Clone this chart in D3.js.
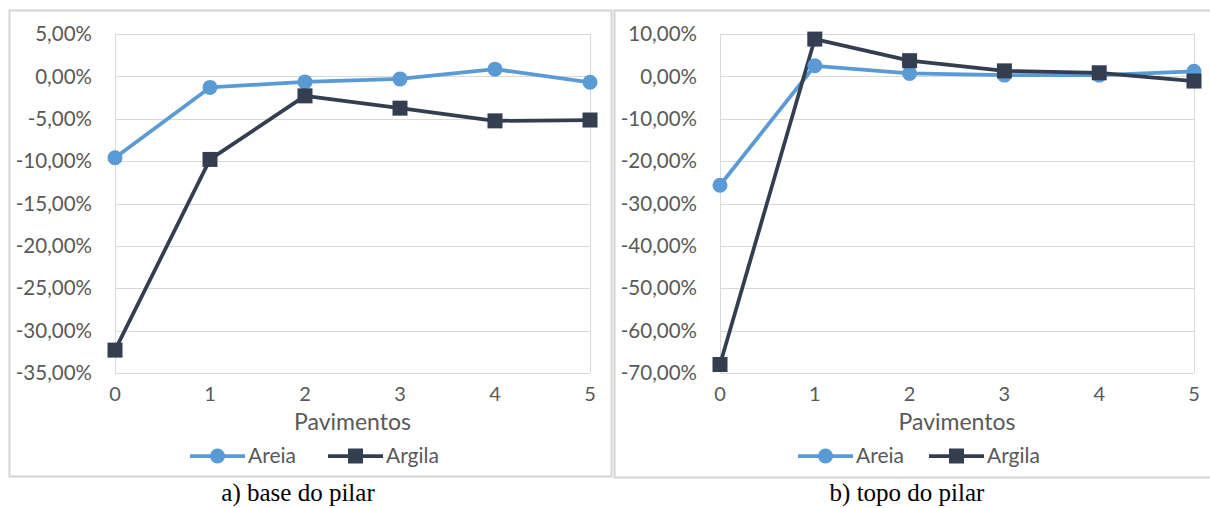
<!DOCTYPE html>
<html>
<head>
<meta charset="utf-8">
<script src="https://cdn.jsdelivr.net/npm/d3@7"></script>
<style>
  body { margin: 0; background: #fff; }
  svg { display: block; }
  .tick-label { font-family: Lato, "Open Sans", sans-serif; fill: #595959; }
  .caption { font-family: "Liberation Serif", "DejaVu Serif", serif; fill: #000; }
</style>
</head>
<body>
<svg id="chart" width="1210" height="508"></svg>
<script>
// floors (x categories)
const floors = [0, 1, 2, 3, 4, 5]

// a) base do pilar
const baseAreia = [-9.6, -1.3, -0.65, -0.3, 0.85, -0.7]
const baseArgila = [-32.3, -9.8, -2.3, -3.75, -5.25, -5.15]
const baseTicks = [5, 0, -5, -10, -15, -20, -25, -30, -35]

// b) topo do pilar
const topoAreia = [-25.7, 2.5, 0.7, 0.3, 0.3, 1.2]
const topoArgila = [-68.0, 8.8, 3.7, 1.3, 0.85, -1.1]
const topoTicks = [10, 0, -10, -20, -30, -40, -50, -60, -70]

const seriesNames = ["Areia", "Argila"]
const colors = { Areia: "#5B9BD5", Argila: "#333F50" }

const svg = d3.select("#chart")

const fmt = v => v.toFixed(2).replace(".", ",") + "%"

// panel frames
svg.append("rect")
    .attr("x", 9.5).attr("y", 10.5)
    .attr("width", 602).attr("height", 466)
    .attr("fill", "none").attr("stroke", "#d4d4d4").attr("stroke-width", 2)
svg.append("rect")
    .attr("x", 614.5).attr("y", 10.5)
    .attr("width", 600).attr("height", 467)
    .attr("fill", "none").attr("stroke", "#d4d4d4").attr("stroke-width", 2)

function drawPanel(opts) {
    const { left, right, ticks, areia, argila, labelX, legendX, caption, captionX } = opts
    const top = 34, bottom = 373

    const x = d3.scaleLinear().domain([0, 5]).range([left, right])
    const y = d3.scaleLinear().domain([d3.min(ticks), d3.max(ticks)]).range([bottom, top])

    const g = svg.append("g")

    // gridlines
    g.append("g")
        .selectAll("line")
        .data(ticks)
        .join("line")
        .attr("x1", left).attr("x2", right)
        .attr("y1", d => Math.round(y(d)) + 0.5)
        .attr("y2", d => Math.round(y(d)) + 0.5)
        .attr("stroke", "#d9d9d9").attr("stroke-width", 1)

    // plot edges
    g.append("g")
        .selectAll("line")
        .data([left, right])
        .join("line")
        .attr("x1", d => Math.round(d) + 0.5).attr("x2", d => Math.round(d) + 0.5)
        .attr("y1", y(d3.max(ticks))).attr("y2", y(d3.min(ticks)))
        .attr("stroke", "#d9d9d9").attr("stroke-width", 1)

    // y labels
    g.append("g")
        .selectAll("text")
        .data(ticks)
        .join("text")
        .attr("class", "tick-label")
        .attr("x", labelX)
        .attr("y", d => y(d))
        .attr("dy", "0.35em")
        .attr("text-anchor", "end")
        .style("font-size", "20.5px")
        .text(fmt)

    // x labels
    g.append("g")
        .selectAll("text")
        .data(floors)
        .join("text")
        .attr("class", "tick-label")
        .attr("x", d => x(d))
        .attr("y", 401)
        .attr("text-anchor", "middle")
        .style("font-size", "20px")
        .text(d => d)

    g.append("text")
        .attr("class", "tick-label")
        .attr("x", (left + right) / 2)
        .attr("y", 430)
        .attr("text-anchor", "middle")
        .style("font-size", "23px")
        .text("Pavimentos")

    const line = d3.line().x((d, i) => x(floors[i])).y(d => y(d))

    const data = [{ key: "Areia", values: areia }, { key: "Argila", values: argila }]

    g.append("g")
        .selectAll("path")
        .data(data)
        .join("path")
        .attr("d", d => line(d.values))
        .attr("fill", "none")
        .attr("stroke", d => colors[d.key])
        .attr("stroke-width", 3.75)
        .attr("stroke-linejoin", "round")

    // markers
    g.append("g")
        .selectAll("circle")
        .data(areia)
        .join("circle")
        .attr("cx", (d, i) => x(floors[i]))
        .attr("cy", d => y(d))
        .attr("r", 7.5)
        .attr("fill", colors.Areia)

    g.append("g")
        .selectAll("rect")
        .data(argila)
        .join("rect")
        .attr("x", (d, i) => x(floors[i]) - 7.5)
        .attr("y", d => y(d) - 7.5)
        .attr("width", 15).attr("height", 15)
        .attr("fill", colors.Argila)

    // legend
    const legend = g.append("g")
        .selectAll("g")
        .data(seriesNames)
        .join("g")
        .attr("transform", (d, i) => `translate(${legendX[i]},456)`)

    legend.append("line")
        .attr("x1", 0).attr("x2", 55)
        .attr("stroke", d => colors[d]).attr("stroke-width", 3.75)

    legend.filter(d => d == "Areia").append("circle")
        .attr("cx", 27.5).attr("r", 7.5).attr("fill", colors.Areia)
    legend.filter(d => d == "Argila").append("rect")
        .attr("x", 20).attr("y", -7.5).attr("width", 15).attr("height", 15)
        .attr("fill", colors.Argila)

    legend.append("text")
        .attr("class", "tick-label")
        .attr("x", 58)
        .attr("dy", "0.35em")
        .style("font-size", "21px")
        .text(d => d)

    svg.append("text")
        .attr("class", "caption")
        .attr("x", captionX)
        .attr("y", 501)
        .attr("text-anchor", "middle")
        .style("font-family", "'Liberation Serif', 'DejaVu Serif', serif")
        .style("font-size", "25px")
        .text(caption)
}

drawPanel({
    left: 115, right: 590, ticks: baseTicks, areia: baseAreia, argila: baseArgila,
    labelX: 92, legendX: [190, 328], caption: "a) base do pilar", captionX: 298
})

drawPanel({
    left: 720, right: 1194, ticks: topoTicks, areia: topoAreia, argila: topoArgila,
    labelX: 697, legendX: [798, 929], caption: "b) topo do pilar", captionX: 907
})
</script>
</body>
</html>
